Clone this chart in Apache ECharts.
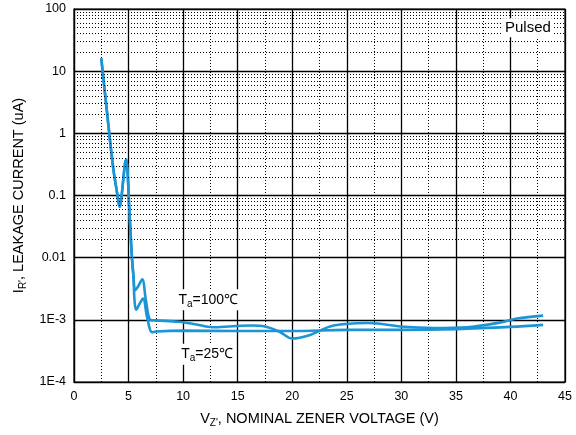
<!DOCTYPE html>
<html><head><meta charset="utf-8">
<script src="https://cdn.jsdelivr.net/npm/echarts@6/dist/echarts.min.js"></script>
<style>html,body{margin:0;padding:0;background:#fff}#c{width:576px;height:435px}</style>
</head><body><div id="c"></div>
<script>
// ---- data ----
const xTickValues = [0, 5, 10, 15, 20, 25, 30, 35, 40, 45];
const yTickValues = [1e-4, 1e-3, 1e-2, 1e-1, 1, 10, 100];
const yTickLabels = ['1E-4', '1E-3', '0.01', '0.1', '1', '10', '100'];
const minorMultipliers = [2, 3, 4, 5, 6, 7, 8, 9];

// common steep part (both temperatures)
const sharedVz = [2.5, 3.0, 3.6, 3.95, 4.08, 4.19, 4.32, 4.5, 4.7, 4.8, 4.92, 5.05, 5.2, 5.33, 5.45];
const sharedIr = [16, 2.4, 0.27, 0.11, 0.078, 0.066, 0.085, 0.17, 0.35, 0.38, 0.22, 0.07, 0.022, 0.009, 0.005];

// Ta = 100 C
const t100Vz = [5.6, 5.9, 6.25, 6.6, 7.0, 7.5, 9.6, 11.1, 12.7, 14.5, 16.3, 17.5, 18.8, 20.0, 21.5, 23.8, 26.9, 28.4, 29.9, 33, 36, 39.1, 40.6, 43];
const t100Ir = [0.0030, 0.0035, 0.0045, 0.0020, 0.0010, 0.00098, 0.00093, 0.00085, 0.00076, 0.00079, 0.00081, 0.00078, 0.00065, 0.00050, 0.00056, 0.00081, 0.00089, 0.00085, 0.00078, 0.00074, 0.00076, 0.00091, 0.00105, 0.00117];

// Ta = 25 C
const t25Vz = [5.55, 5.7, 6.0, 6.33, 6.7, 7.16, 7.5, 10, 15, 20, 25, 30, 35, 40, 43];
const t25Ir = [0.0020, 0.00145, 0.0018, 0.0022, 0.0011, 0.00063, 0.00065, 0.00067, 0.00066, 0.00066, 0.00069, 0.00069, 0.00071, 0.00077, 0.00083];

const labels = { t100: 'T{sub|a}=100℃', t25: 'T{sub|a}=25℃', pulsed: 'Pulsed' };
const labelAt = { t100: [12.3, 0.0021], t25: [12.2, 0.00028], pulsed: [41.6, 50] };

// ---- build ----
function pairs(xs, ys) { return xs.map((x, i) => [x, ys[i]]); }
const s100 = pairs(sharedVz, sharedIr).concat(pairs(t100Vz, t100Ir));
const s25 = pairs(sharedVz, sharedIr).concat(pairs(t25Vz, t25Ir));

const minorLines = [];
for (let k = 0; k < yTickValues.length - 1; k++) {
  minorMultipliers.forEach(m => minorLines.push({ yAxis: m * yTickValues[k] }));
}

const font = 'Liberation Sans, Arial, sans-serif';
const lineColor = '#1b95d5';
const richLabel = {
  fontFamily: font, fontSize: 14, color: '#000',
  backgroundColor: '#fff', padding: [1, 2, 1, 2],
  rich: { sub: { fontFamily: font, fontSize: 10, padding: [9, 0, 0, 0], verticalAlign: 'top' } }
};

const chart = echarts.init(document.getElementById('c'), null, { renderer: 'canvas' });
chart.setOption({
  animation: false,
  backgroundColor: '#fff',
  grid: { left: 74, right: 11, top: 9, bottom: 53, show: true, borderColor: '#000', borderWidth: 1.2, backgroundColor: 'transparent' },
  xAxis: {
    type: 'value', min: xTickValues[0], max: xTickValues[xTickValues.length - 1], interval: 5,
    axisLine: { show: true, lineStyle: { color: '#000', width: 1.2 } },
    axisTick: { show: false },
    axisLabel: { color: '#000', fontFamily: font, fontSize: 12.5, margin: 8 },
    splitLine: { show: true, lineStyle: { color: '#000', width: 1.3 } },
    minorTick: { show: false, splitNumber: 2 },
    minorSplitLine: { show: true, lineStyle: { color: '#000', width: 1, type: [1, 2] } },
    name: 'V{sub|Z\'}, NOMINAL ZENER VOLTAGE (V)',
    nameLocation: 'middle', nameGap: 27,
    nameTextStyle: { color: '#000', fontFamily: font, fontSize: 14.5,
      rich: { sub: { fontFamily: font, fontSize: 10, padding: [9, 0, 0, 0], verticalAlign: 'top' } } }
  },
  yAxis: {
    type: 'log', logBase: 10, min: yTickValues[0], max: yTickValues[yTickValues.length - 1], splitNumber: 6,
    axisLine: { show: true, lineStyle: { color: '#000', width: 1.2 } },
    axisTick: { show: false },
    axisLabel: {
      color: '#000', fontFamily: font, fontSize: 12.5, margin: 8,
      formatter: v => {
        const e = Math.round(Math.log10(v));
        const i = yTickValues.findIndex(t => Math.round(Math.log10(t)) === e);
        return i >= 0 ? yTickLabels[i] : '';
      }
    },
    splitLine: { show: true, lineStyle: { color: '#000', width: 1.3 } },
    name: 'I{sub|R\'}, LEAKAGE CURRENT (uA)',
    nameLocation: 'middle', nameGap: 44,
    nameTextStyle: { color: '#000', fontFamily: font, fontSize: 14.5,
      rich: { sub: { fontFamily: font, fontSize: 10, padding: [9, 0, 0, 0], verticalAlign: 'top' } } }
  },
  series: [
    {
      name: 'minor', type: 'line', data: [], z: 1, silent: true,
      markLine: {
        silent: true, symbol: ['none', 'none'], label: { show: false },
        lineStyle: { color: '#000', width: 1, type: [1, 2] },
        emphasis: { disabled: true },
        data: minorLines
      },
      markPoint: {
        symbol: 'rect', symbolSize: 0, silent: true,
        label: { show: true, position: 'inside', fontFamily: font, fontSize: 15, color: '#000', backgroundColor: '#fff', padding: [2, 3, 2, 3], formatter: labels.pulsed },
        data: [{ coord: labelAt.pulsed }]
      }
    },
    {
      name: 'Ta=100', type: 'line', data: s100, smooth: 0.35, showSymbol: false, z: 3,
      lineStyle: { color: lineColor, width: 2.6 },
      markPoint: {
        symbol: 'rect', symbolSize: 0, silent: true,
        label: Object.assign({ show: true, position: 'inside', formatter: labels.t100 }, richLabel),
        data: [{ coord: labelAt.t100 }]
      }
    },
    {
      name: 'Ta=25', type: 'line', data: s25, smooth: 0.35, showSymbol: false, z: 3,
      lineStyle: { color: lineColor, width: 2.6 },
      markPoint: {
        symbol: 'rect', symbolSize: 0, silent: true,
        label: Object.assign({ show: true, position: 'inside', formatter: labels.t25 }, richLabel),
        data: [{ coord: labelAt.t25 }]
      }
    }
  ]
});
</script>
</body></html>
